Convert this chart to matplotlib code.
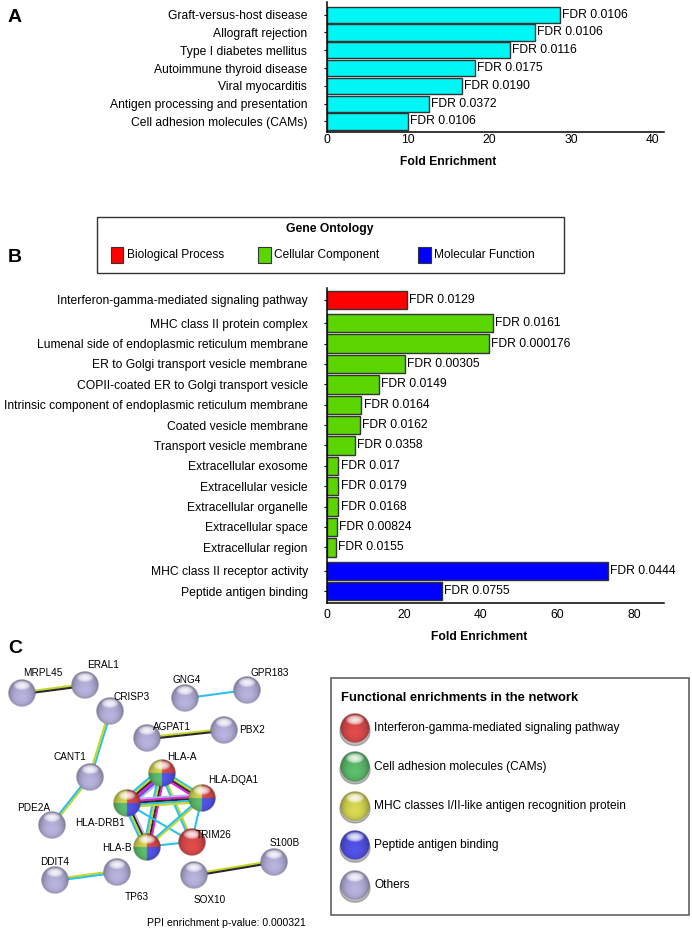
import numpy as np
import matplotlib
matplotlib.use("Agg")
import matplotlib.pyplot as plt
from matplotlib.patches import Rectangle, Ellipse
from matplotlib.colors import to_rgb

plt.rcParams['font.family'] = ['Liberation Sans', 'DejaVu Sans']

W, H = 692, 930

# Panel A data (KEGG pathways)
kegg_terms = ["Graft-versus-host disease", "Allograft rejection", "Type I diabetes mellitus",
              "Autoimmune thyroid disease", "Viral myocarditis",
              "Antigen processing and presentation", "Cell adhesion molecules (CAMs)"]
kegg_fold = [28.6, 25.6, 22.5, 18.2, 16.6, 12.5, 10.0]
kegg_fdr = ["FDR 0.0106", "FDR 0.0106", "FDR 0.0116", "FDR 0.0175", "FDR 0.0190",
            "FDR 0.0372", "FDR 0.0106"]

# Panel B data (Gene Ontology)
go_terms = ["Interferon-gamma-mediated signaling pathway",
            "MHC class II protein complex",
            "Lumenal side of endoplasmic reticulum membrane",
            "ER to Golgi transport vesicle membrane",
            "COPII-coated ER to Golgi transport vesicle",
            "Intrinsic component of endoplasmic reticulum membrane",
            "Coated vesicle membrane",
            "Transport vesicle membrane",
            "Extracellular exosome",
            "Extracellular vesicle",
            "Extracellular organelle",
            "Extracellular space",
            "Extracellular region",
            "MHC class II receptor activity",
            "Peptide antigen binding"]
go_fold = [20.7, 43.1, 42.2, 20.2, 13.5, 8.9, 8.5, 7.3, 2.9, 2.9, 2.9, 2.6, 2.3, 73.1, 29.9]
go_fdr = ["FDR 0.0129", "FDR 0.0161", "FDR 0.000176", "FDR 0.00305", "FDR 0.0149",
          "FDR 0.0164", "FDR 0.0162", "FDR 0.0358", "FDR 0.017", "FDR 0.0179",
          "FDR 0.0168", "FDR 0.00824", "FDR 0.0155", "FDR 0.0444", "FDR 0.0755"]
go_groups = ["Biological Process", "Cellular Component", "Molecular Function"]
go_group_sizes = [1, 12, 2]
go_group_colors = ["#ff0000", "#5cd600", "#0000ff"]

# Panel C data (STRING network)
node_names = ["MRPL45", "ERAL1", "CRISP3", "GNG4", "GPR183", "AGPAT1", "PBX2", "CANT1",
              "HLA-A", "HLA-DQA1", "HLA-DRB1", "PDE2A", "HLA-B", "TRIM26", "S100B",
              "SOX10", "DDIT4", "TP63"]
node_x = [21.7, 85, 110, 185, 246.7, 146.7, 223.3, 90, 161.7, 201.7, 126.7, 51.7, 146.7,
          191.7, 273.3, 193.3, 55, 116.7]
node_y = [693.3, 685, 711.7, 698.3, 690, 738.3, 730, 776.7, 773.3, 798.3, 803.3, 825,
          846.7, 841.7, 861.7, 875, 880, 871.7]
label_x = [43.3, 103, 131.7, 186.7, 270, 171.7, 251.7, 70, 181.7, 233.3, 100, 33.3, 116.7,
           213.3, 285, 210, 55, 136.7]
label_y = [673.3, 665, 696.7, 680, 673.3, 726.7, 730, 756.7, 756.7, 780, 823.3, 808.3,
           848.3, 835, 843.3, 900, 861.7, 896.7]
HLA_COLS = ["yellow", "red", "green", "blue"]
node_cols = {n: ["others"] for n in node_names}
for n in ["HLA-A", "HLA-DQA1", "HLA-DRB1", "HLA-B"]:
    node_cols[n] = HLA_COLS
node_cols["TRIM26"] = ["red"]

TM, CO, DB, EX, CC, HO = "#c4d82a", "#2a2a2a", "#2ec0e8", "#e020d0", "#5a50d8", "#b8b4f0"
edges = [("MRPL45", "ERAL1", [TM, CO]),
         ("GNG4", "GPR183", [DB]),
         ("CRISP3", "CANT1", [DB, TM]),
         ("CANT1", "PDE2A", [TM, DB]),
         ("AGPAT1", "PBX2", [TM, CO]),
         ("DDIT4", "TP63", [TM, DB]),
         ("SOX10", "S100B", [TM, CO]),
         ("HLA-A", "HLA-DRB1", [HO, CC, EX, CO, TM, DB]),
         ("HLA-A", "HLA-DQA1", [DB, TM, CO, EX]),
         ("HLA-A", "HLA-B", [EX, CO, TM, DB]),
         ("HLA-A", "TRIM26", [TM, DB]),
         ("HLA-DRB1", "HLA-DQA1", [HO, EX, CO, DB, TM]),
         ("HLA-DRB1", "HLA-B", [HO, CO, TM, DB]),
         ("HLA-DRB1", "TRIM26", [DB]),
         ("HLA-DQA1", "HLA-B", [TM, DB]),
         ("HLA-DQA1", "TRIM26", [DB]),
         ("HLA-B", "TRIM26", [DB])]

net_legend = ["Interferon-gamma-mediated signaling pathway", "Cell adhesion molecules (CAMs)",
              "MHC classes I/II-like antigen recognition protein", "Peptide antigen binding",
              "Others"]
net_legend_cols = ["red", "green", "yellow", "blue", "others"]
SPHERE = {"red": "#dc4a4a", "green": "#5cba6c", "yellow": "#d6d652", "blue": "#5252e6",
          "others": "#b4b0da"}

FS = 8.7


def px_rect(left, top, right, bottom):
    return [left / W, 1 - bottom / H, (right - left) / W, (bottom - top) / H]


def style_axes(ax):
    for s in ["top", "right"]:
        ax.spines[s].set_visible(False)
    for s in ["left", "bottom"]:
        ax.spines[s].set_linewidth(1.1)
    ax.tick_params(axis="x", length=0, labelsize=FS)
    ax.tick_params(axis="y", length=2, width=0.8, labelsize=FS, pad=12)


def sphere_img(cols, n=64):
    u = np.linspace(-1, 1, n)
    U, V = np.meshgrid(u, u)
    d = np.sqrt(U ** 2 + V ** 2)
    base = np.zeros((n, n, 3))
    if len(cols) == 1:
        base[:] = to_rgb(SPHERE[cols[0]])
    else:
        quads = [(U < 0) & (V < 0), (U >= 0) & (V < 0), (U < 0) & (V >= 0), (U >= 0) & (V >= 0)]
        for q, c in zip(quads, cols):
            base[q] = to_rgb(SPHERE[c])
    nz = np.sqrt(np.clip(1 - d ** 2, 0, 1))
    inten = 0.55 + 0.45 * nz + 0.15 * np.clip(V, 0, 1)
    rgb = base * inten[..., None]
    spec = np.clip(1 - ((U / 0.62) ** 2 + ((V + 0.55) / 0.34) ** 2), 0, 1) ** 0.6 * 0.85
    rgb = rgb * (1 - spec[..., None]) + spec[..., None]
    alpha = np.clip((1 - d) * n / 2, 0, 1)
    return np.dstack([np.clip(rgb, 0, 1), alpha])


def draw_sphere(ax, x, y, r, cols, shadow=False):
    if shadow:
        ax.add_patch(Ellipse((x, y + r * 0.2), 2 * r, 2 * r * 0.95, color="#404040",
                             alpha=0.35, zorder=2))
    ax.imshow(sphere_img(cols), extent=(x - r, x + r, y + r, y - r), zorder=3,
              interpolation="bilinear", aspect="auto")


fig = plt.figure(figsize=(W / 100, H / 100), dpi=100)

# Panel A
# -------------------------------------------------- #
axA = fig.add_axes(px_rect(326.7, 2, 664, 131.7))
posA = np.arange(len(kegg_terms))
axA.barh(posA, kegg_fold, height=0.9, color="#00f5f5", edgecolor="#333333", linewidth=1.0)
for p, v, t in zip(posA, kegg_fold, kegg_fdr):
    axA.annotate(t, (v, p), xytext=(1.5, 0), textcoords="offset points",
                 va="center", ha="left", fontsize=FS)
axA.set_yticks(posA)
axA.set_yticklabels(kegg_terms)
axA.set_ylim(len(kegg_terms) - 1 + 0.573, -0.713)
axA.set_xlim(0, 41.4)
axA.set_xticks([0, 10, 20, 30, 40])
style_axes(axA)
axA.tick_params(axis="x", pad=2)
axA.text(0.361, -0.231, "Fold Enrichment", transform=axA.transAxes, ha="center",
         va="center", fontsize=FS, fontweight="bold")

# Panel B
# -------------------------------------------------- #
axB = fig.add_axes(px_rect(327.3, 288, 664, 603.3))
posB, colB = [], []
p = 0.0
for size, col in zip(go_group_sizes, go_group_colors):
    for i in range(size):
        posB.append(p)
        colB.append(col)
        p += 1
    p += 0.155
axB.barh(posB, go_fold, height=0.9, color=colB, edgecolor="#333333", linewidth=1.0)
for pp, v, t in zip(posB, go_fold, go_fdr):
    axB.annotate(t, (v, pp), xytext=(1.5, 0), textcoords="offset points",
                 va="center", ha="left", fontsize=FS)
axB.set_yticks(posB)
axB.set_yticklabels(go_terms)
axB.set_ylim(posB[-1] + 0.59, -0.575)
axB.set_xlim(0, 87.7)
axB.set_xticks([0, 20, 40, 60, 80])
style_axes(axB)
axB.tick_params(axis="x", pad=4)
axB.text(0.4505, -0.107, "Fold Enrichment", transform=axB.transAxes, ha="center",
         va="center", fontsize=FS, fontweight="bold")

# Overlay in pixel coordinates: panel letters, legend B, network C
# -------------------------------------------------- #
ov = fig.add_axes([0, 0, 1, 1])
ov.patch.set_visible(False)
ov.axis("off")

for letter, ly in zip(["A", "B", "C"], [17, 257, 648]):
    ov.text(8, ly, letter, fontsize=14, fontweight="bold", ha="left", va="center")

# Gene Ontology legend box
ov.add_patch(Rectangle((96.7, 217.3), 467.6, 56, fill=False, edgecolor="#333333", lw=1.0))
ov.text(330, 229, "Gene Ontology", ha="center", va="center", fontsize=FS, fontweight="bold")
for gx, name, col in zip([110.7, 258.3, 418.3], go_groups, go_group_colors):
    ov.add_patch(Rectangle((gx, 246.7), 12.7, 16.6, facecolor=col, edgecolor="#333333", lw=0.8))
    ov.text(gx + 16, 255, name, ha="left", va="center", fontsize=8.6)

# Network edges
idx = {n: i for i, n in enumerate(node_names)}
for a, b, cols in edges:
    x0, y0 = node_x[idx[a]], node_y[idx[a]]
    x1, y1 = node_x[idx[b]], node_y[idx[b]]
    dx, dy = x1 - x0, y1 - y0
    ln = np.hypot(dx, dy)
    nx, ny = -dy / ln, dx / ln
    k = len(cols)
    for i, c in enumerate(cols):
        off = (i - (k - 1) / 2) * 1.9
        ov.plot([x0 + nx * off, x1 + nx * off], [y0 + ny * off, y1 + ny * off],
                color=c, lw=1.5, solid_capstyle="butt", zorder=1)

# Network nodes and labels
for n, x, y, lx, lyy in zip(node_names, node_x, node_y, label_x, label_y):
    draw_sphere(ov, x, y, 13.8, node_cols[n])
    ov.text(lx, lyy, n, ha="center", va="center", fontsize=7.2, zorder=4)
ov.text(226.7, 923, "PPI enrichment p-value: 0.000321", ha="center", va="center",
        fontsize=7.6)

# Network legend box
ov.add_patch(Rectangle((331, 677.7), 358.3, 237.3, fill=False, edgecolor="#555555", lw=1.1))
ov.text(341, 698.3, "Functional enrichments in the network", ha="left", va="center",
        fontsize=9.4, fontweight="bold")
for ly, name, col in zip([728.3, 766.7, 805.7, 845, 885], net_legend, net_legend_cols):
    draw_sphere(ov, 355, ly, 15, [col], shadow=True)
    ov.text(374.3, ly, name, ha="left", va="center", fontsize=8.6)

ov.set_xlim(0, W)
ov.set_ylim(H, 0)

fig.savefig("out.png", dpi=100)
